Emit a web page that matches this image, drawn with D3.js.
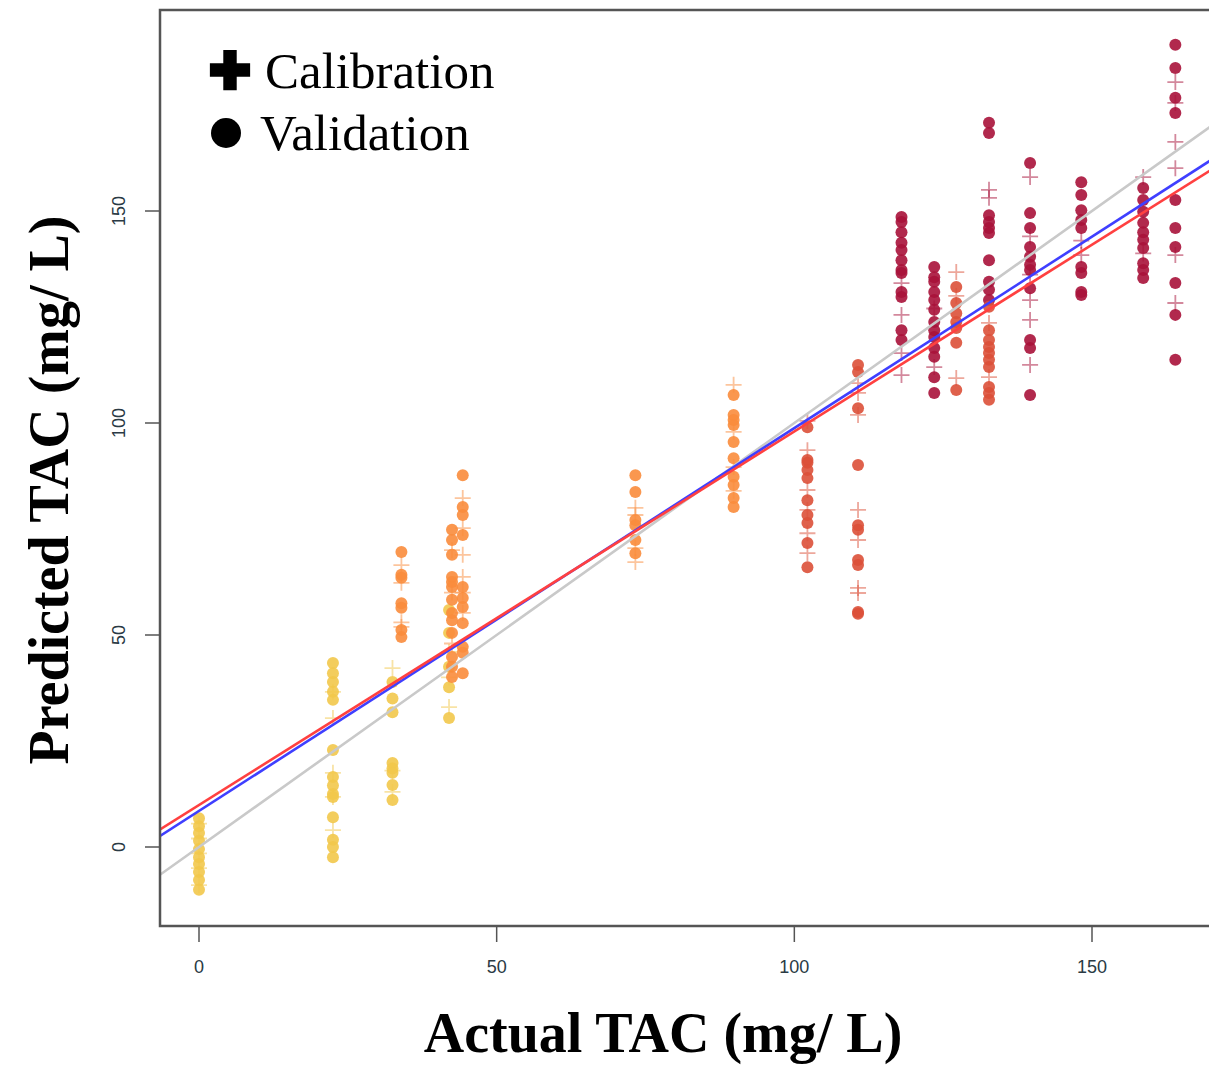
<!DOCTYPE html>
<html>
<head>
<meta charset="utf-8">
<script src="https://cdn.jsdelivr.net/npm/d3@7"></script>
<style>
  html, body { margin: 0; padding: 0; background: #fff; }
  svg { display: block; }
</style>
</head>
<body>
<div id="chart"></div>
<script>
// actual TAC of each point group (mg/L) and its colour grade
const actualTAC = [0, 22.5, 32.5, 34, 42, 42.5, 44.3, 73.3, 89.8, 102.2, 110.7, 118, 123.5, 127.2, 132.7, 132.7, 139.6, 148.2, 158.6, 164];
const grade = ["low", "low", "low", "mid", "low", "mid", "mid", "mid", "mid", "red", "red", "high", "high", "red", "high", "red", "high", "high", "high", "high"];

// predicted TAC, validation set (circles)
const validation = [
  [6.8, 4.9, 3.3, 1.5, -0.5, -2.4, -4.0, -5.9, -7.8, -10.1],
  [43.4, 41, 38.9, 36.6, 34.7, 22.9, 16.5, 14.5, 12.5, 11.8, 7, 1.7, 0, -2.4],
  [38.9, 35, 31.8, 19.8, 18.5, 17.5, 14.6, 11.1],
  [69.6, 64.2, 63.5, 57.5, 56.4, 51.2, 49.5],
  [55.9, 50.5, 42.5, 37.7, 30.4],
  [74.8, 72.4, 68.9, 63.7, 62.5, 61.3, 58.3, 55.2, 53.5, 50.5, 44.8, 42.5, 40.1],
  [87.7, 80.2, 78.3, 73.6, 61.3, 58.7, 56.6, 52.8, 47.2, 45.8, 41],
  [87.7, 83.7, 77.1, 75.9, 72.4, 69.3],
  [106.6, 101.9, 100.7, 99.5, 95.5, 91.7, 87.3, 85.4, 82.3, 80.2],
  [99, 91.3, 90.6, 88.9, 87, 81.8, 78.3, 76.4, 71.7, 66],
  [113.7, 112, 103.5, 90.1, 75.9, 74.8, 67.7, 66.5, 55.4, 55],
  [148.6, 147.4, 145, 142.5, 140.8, 138.4, 136.1, 135.4, 130.9, 129.7, 121.9, 119.6],
  [136.8, 134.4, 133.3, 130.9, 129, 126.7, 123.8, 121.9, 120.3, 117.7, 115.6, 110.8, 107.1],
  [132.1, 128.3, 125.9, 123.8, 122.4, 118.9, 107.8],
  [170.8, 168.4, 149, 147.4, 146, 144.8, 138.4, 133.3, 131.4, 129],
  [127.4, 121.9, 119.6, 117.9, 116.5, 114.9, 113.2, 108.5, 107.1, 105.5],
  [161.3, 149.5, 146, 141.5, 139.2, 137.3, 136.1, 131.8, 119.6, 117.7, 106.6],
  [156.8, 153.8, 150.2, 147.9, 146, 136.8, 135.4, 130.9, 130.2],
  [155.4, 152.6, 149.8, 147.2, 145, 143.2, 141.3, 137.7, 136.1, 134.2],
  [189.2, 183.7, 176.7, 173.1, 152.6, 146, 141.5, 133, 125.5, 114.9]
];

// predicted TAC, calibration set (plus signs)
const calibration = [
  [5.5, 2, -1.5, -5, -9],
  [36.6, 30.4, 17.5, 11.8, 4],
  [42.2, 18, 13],
  [66.5, 62.3, 53, 51.9],
  [46, 40, 33],
  [70, 60, 48],
  [82.3, 75.2, 68.9, 63.7, 60, 55.2],
  [80, 78.3, 70.5, 67.2],
  [109, 97.9, 89.6, 84],
  [100.5, 93.6, 84.2, 79.5, 74, 69.3],
  [109.4, 107.1, 101.9, 79.5, 72.4, 61.1, 59.9],
  [133, 125.5, 116.5, 111.3],
  [127, 113.2],
  [135.6, 130, 110.6],
  [155, 153.1],
  [123.6, 110.8],
  [158, 144, 135, 129, 124.3, 113.7],
  [143, 139.6],
  [158, 140],
  [180.4, 175.5, 166.3, 160.1, 139.6, 128.3]
];

// fitted lines: identity (1:1), calibration fit, validation fit
const fitNames = ["identity", "calibration", "validation"];
const fitIntercepts = [0, 8.5, 9.9];
const fitSlopes = [1, 0.903, 0.881];

const xTicks = [0, 50, 100, 150];
const yTicks = [0, 50, 100, 150];

const W = 1209, H = 1066;
const plot = { left: 160, right: 1215, top: 10, bottom: 926 };

const svg = d3.select("#chart").append("svg")
  .attr("width", W)
  .attr("height", H);

const x = d3.scaleLinear().domain([0, 150]).range([199, 1092]);
const y = d3.scaleLinear().domain([0, 150]).range([847, 211]);

const color = d3.scaleOrdinal()
  .domain(["low", "mid", "red", "high"])
  .range(["#f2c84b", "#fa8c3c", "#dc5038", "#a8123a"]);

svg.append("clipPath").attr("id", "clip")
  .append("rect")
  .attr("x", plot.left).attr("y", plot.top)
  .attr("width", plot.right - plot.left).attr("height", plot.bottom - plot.top);

const g = svg.append("g").attr("clip-path", "url(#clip)");

// flatten groups into points
const calPts = [], valPts = [];
actualTAC.forEach((a, i) => {
  calibration[i].forEach(v => calPts.push({ a, v, c: grade[i] }));
  validation[i].forEach(v => valPts.push({ a, v, c: grade[i] }));
});

// calibration: thin plus signs
const arm = 8;
g.selectAll(".cal").data(calPts).enter().append("path")
  .attr("class", "cal")
  .attr("d", d => {
    const px = x(d.a), py = y(d.v);
    return `M${px - arm},${py}H${px + arm}M${px},${py - arm}V${py + arm}`;
  })
  .attr("stroke", d => color(d.c))
  .attr("stroke-width", 1.8)
  .attr("stroke-opacity", 0.5)
  .attr("fill", "none");

// validation: filled circles
g.selectAll(".val").data(valPts).enter().append("circle")
  .attr("class", "val")
  .attr("cx", d => x(d.a))
  .attr("cy", d => y(d.v))
  .attr("r", 6)
  .attr("fill", d => color(d.c))
  .attr("fill-opacity", 0.9);

// regression lines
const lineColor = d3.scaleOrdinal().domain(fitNames).range(["#c9c9c9", "#3f3fff", "#ff4040"]);
const xs = [-10, 175];
fitNames.forEach((n, i) => {
  g.append("line")
    .attr("x1", x(xs[0])).attr("y1", y(fitIntercepts[i] + fitSlopes[i] * xs[0]))
    .attr("x2", x(xs[1])).attr("y2", y(fitIntercepts[i] + fitSlopes[i] * xs[1]))
    .attr("stroke", lineColor(n))
    .attr("stroke-width", 2.6);
});

// frame
svg.append("rect")
  .attr("x", plot.left).attr("y", plot.top)
  .attr("width", plot.right - plot.left).attr("height", plot.bottom - plot.top)
  .attr("fill", "none")
  .attr("stroke", "#555")
  .attr("stroke-width", 2.5);

// x axis ticks
const xAx = svg.append("g");
xAx.selectAll("line").data(xTicks).enter().append("line")
  .attr("x1", d => x(d)).attr("x2", d => x(d))
  .attr("y1", plot.bottom).attr("y2", plot.bottom + 16)
  .attr("stroke", "#555").attr("stroke-width", 1.5);
xAx.selectAll("text").data(xTicks).enter().append("text")
  .attr("x", d => x(d)).attr("y", 973)
  .attr("text-anchor", "middle")
  .style("font-family", "'Liberation Sans Narrow', 'Liberation Sans', Arial, sans-serif")
  .style("font-size", "18px")
  .style("fill", "#2a3a44")
  .text(d => d);

// y axis ticks
const yAx = svg.append("g");
yAx.selectAll("line").data(yTicks).enter().append("line")
  .attr("x1", plot.left - 15).attr("x2", plot.left)
  .attr("y1", d => y(d)).attr("y2", d => y(d))
  .attr("stroke", "#555").attr("stroke-width", 1.5);
yAx.selectAll("text").data(yTicks).enter().append("text")
  .attr("transform", d => `translate(125,${y(d)}) rotate(-90)`)
  .attr("text-anchor", "middle")
  .style("font-family", "'Liberation Sans Narrow', 'Liberation Sans', Arial, sans-serif")
  .style("font-size", "18px")
  .style("fill", "#2a3a44")
  .text(d => d);

// axis titles
svg.append("text")
  .attr("x", 663).attr("y", 1052)
  .attr("text-anchor", "middle")
  .style("font-family", "'Liberation Serif', 'Times New Roman', serif")
  .style("font-weight", "bold")
  .style("font-size", "56px")
  .text("Actual TAC (mg/ L)");

svg.append("text")
  .attr("transform", "translate(68,490) rotate(-90)")
  .attr("text-anchor", "middle")
  .style("font-family", "'Liberation Serif', 'Times New Roman', serif")
  .style("font-weight", "bold")
  .style("font-size", "56px")
  .text("Predicted TAC (mg/ L)");

// legend
const legend = svg.append("g");
legend.append("path")
  .attr("d", d3.symbol().type(d3.symbolCross).size(900))
  .attr("transform", "translate(230,70)")
  .attr("fill", "#000");
legend.append("circle")
  .attr("cx", 226).attr("cy", 133).attr("r", 15)
  .attr("fill", "#000");
legend.append("text")
  .attr("x", 265).attr("y", 88)
  .style("font-family", "'Liberation Serif', 'Times New Roman', serif")
  .style("font-size", "51px")
  .text("Calibration");
legend.append("text")
  .attr("x", 260).attr("y", 150)
  .style("font-family", "'Liberation Serif', 'Times New Roman', serif")
  .style("font-size", "51px")
  .text("Validation");
</script>
</body>
</html>
